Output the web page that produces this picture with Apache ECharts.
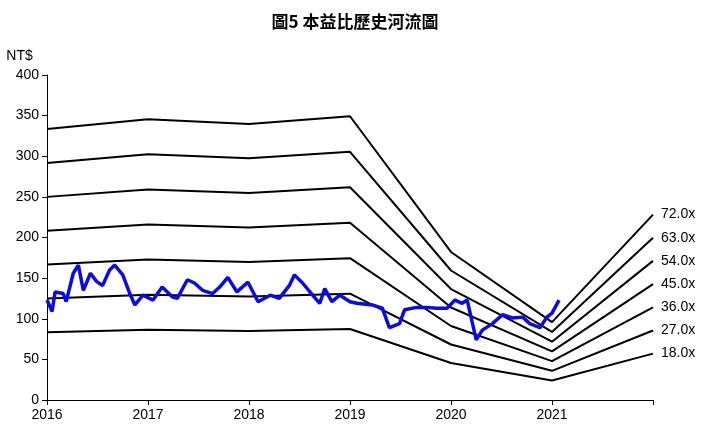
<!DOCTYPE html>
<html><head><meta charset="utf-8">
<script src="https://cdn.jsdelivr.net/npm/echarts@6/dist/echarts.min.js"></script>
<style>body{margin:0;background:#fff}#c{width:710px;height:439px}</style>
</head><body><div id="c"></div>
<script>
// band EPS knots (year, eps)
var epsYears=[2016,2017,2018,2019,2020,2021,2022];
var epsVals=[4.63,4.80,4.72,4.85,2.53,1.33,3.17];
var multiples=[18,27,36,45,54,63,72];
// price (year, NT$)
var priceYears=[2016.0,2016.05,2016.08,2016.16,2016.19,2016.26,2016.31,2016.36,2016.43,2016.49,2016.55,2016.62,2016.67,2016.75,2016.82,2016.87,2016.95,2017.05,2017.14,2017.24,2017.29,2017.39,2017.46,2017.54,2017.64,2017.71,2017.79,2017.88,2017.99,2018.09,2018.21,2018.30,2018.40,2018.45,2018.53,2018.63,2018.70,2018.75,2018.82,2018.90,2019.0,2019.07,2019.22,2019.32,2019.39,2019.49,2019.54,2019.66,2019.76,2019.86,2019.96,2020.04,2020.11,2020.16,2020.25,2020.31,2020.41,2020.51,2020.61,2020.71,2020.78,2020.88,2020.95,2021.0,2021.07];
var priceVals=[123,109,133,131,121,156,166,135,156,146,141,160,166,154,131,117,129,123,139,127,125,148,144,135,131,139,151,133,145,121,129,125,141,154,144,129,119,137,121,129,121,119,117,113,89,94,111,114,114,113,113,123,119,123,74,86,94,105,101,102,94,89,102,107,123];

var chart=echarts.init(document.getElementById('c'));
var series=multiples.slice().reverse().map(function(m){
  return {name:m.toFixed(1)+'x',type:'line',symbol:'none',silent:true,
    lineStyle:{color:'#000',width:2},
    data:epsYears.map(function(y,i){return [y,+(epsVals[i]*m).toFixed(1)];}),
    endLabel:{show:true,formatter:'{a}',color:'#000',fontSize:14,fontFamily:'Liberation Sans',distance:8}};
});
series.push({name:'price',type:'line',symbol:'none',
  lineStyle:{color:'#0a0ae6',width:3.5},
  data:priceYears.map(function(y,i){return [y,priceVals[i]];})});
chart.setOption({
  animation:false,
  title:{text:'圖5 本益比歷史河流圖',left:'center',top:8,
    textStyle:{fontSize:17,fontWeight:'bold',color:'#000',fontFamily:'Noto Sans CJK TC'}},
  grid:{left:47,right:57,top:75,bottom:39},
  xAxis:{type:'value',min:2016,max:2022,interval:1,
    axisLine:{lineStyle:{color:'#000'}},axisTick:{lineStyle:{color:'#000'}},
    splitLine:{show:false},
    axisLabel:{color:'#000',fontSize:14,fontFamily:'Liberation Sans',
      formatter:function(v){return v===2022?'':String(v);}}},
  yAxis:{type:'value',min:0,max:400,interval:50,name:'NT$',nameGap:12,
    nameTextStyle:{color:'#000',fontSize:14,fontFamily:'Liberation Sans',padding:[0,55,0,0]},
    axisLine:{show:true,lineStyle:{color:'#000'}},axisTick:{show:true,lineStyle:{color:'#000'}},
    splitLine:{show:false},
    axisLabel:{color:'#000',fontSize:14,fontFamily:'Liberation Sans'}},
  series:series
});
</script></body></html>
